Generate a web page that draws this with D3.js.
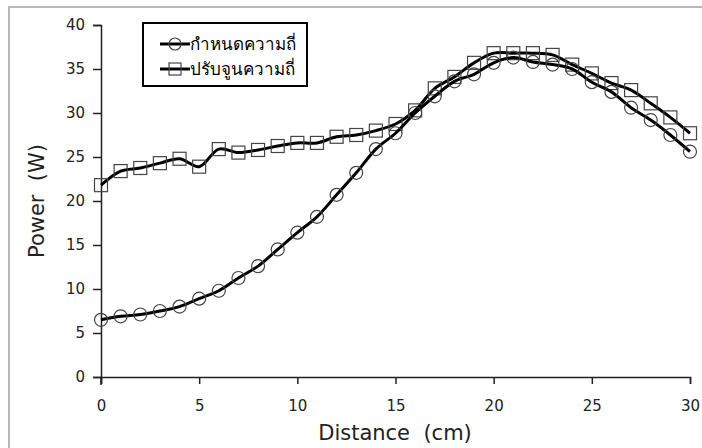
<!DOCTYPE html>
<html><head><meta charset="utf-8">
<script src="https://cdn.jsdelivr.net/npm/d3@7"></script>
<style>
html,body{margin:0;padding:0;background:#fff;}
svg{display:block;font-family:Tahoma,"DejaVu Sans",Verdana,sans-serif;}
</style></head>
<body>
<svg id="chart" width="702" height="448"></svg>
<script>
const distances = d3.range(0, 31);
const seriesNames = ["กำหนดความถี่", "ปรับจูนความถี่"];
const fixedFreq = [6.5,6.9,7.1,7.5,8.0,8.9,9.8,11.25,12.6,14.5,16.4,18.2,20.7,23.2,25.9,27.7,30.0,31.9,33.6,34.4,35.7,36.3,35.8,35.5,35.0,33.5,32.4,30.6,29.2,27.5,25.6];
const tunedFreq = [21.8,23.4,23.75,24.3,24.8,23.9,25.9,25.5,25.8,26.25,26.6,26.6,27.3,27.5,28.0,28.75,30.3,32.8,34.1,35.7,36.8,36.8,36.8,36.6,35.5,34.5,33.4,32.6,31.1,29.5,27.7];
const xTicks = [0,5,10,15,20,25,30];
const yTicks = [0,5,10,15,20,25,30,35,40];

const svg = d3.select("#chart");
// outer frame
svg.append("rect").attr("x",9).attr("y",7).attr("width",720).attr("height",470)
  .attr("fill","none").attr("stroke","#b8b8b8").attr("stroke-width",2);

const x = d3.scaleLinear().domain([0,30]).range([101,690]);
const y = d3.scaleLinear().domain([0,40]).range([377,25]);

const xAxis = svg.append("g").attr("transform","translate(0,377)")
  .call(d3.axisBottom(x).tickValues(xTicks).tickSize(7).tickPadding(16).tickFormat(d3.format("d")));
const yAxis = svg.append("g").attr("transform","translate(101,0)")
  .call(d3.axisLeft(y).tickValues(yTicks).tickSize(8).tickPadding(8).tickFormat(d3.format("d")));
[xAxis,yAxis].forEach(a=>{
  a.select(".domain").attr("stroke","#222").attr("stroke-width",1.5);
  a.selectAll(".tick line").attr("stroke","#222").attr("stroke-width",1.5);
  a.selectAll(".tick text").attr("font-size",15).attr("fill","#222")
   .attr("font-family",'Tahoma,"DejaVu Sans",Verdana,sans-serif');
});
// y axis extends slightly below 0 like Excel cross
svg.append("line").attr("x1",101).attr("x2",101).attr("y1",377).attr("y2",385).attr("stroke","#222").attr("stroke-width",1.5);

svg.append("text").attr("x",395).attr("y",440).attr("text-anchor","middle")
  .attr("font-size",21).attr("fill","#222").style("white-space","pre").text("Distance  (cm)");
svg.append("text").attr("transform","translate(44,201) rotate(-90)").attr("text-anchor","middle")
  .attr("font-size",21).attr("fill","#222").style("white-space","pre").text("Power  (W)");

const line = d3.line().x((d,i)=>x(distances[i])).y(d=>y(d)).curve(d3.curveCatmullRom.alpha(0.5));

function drawSeries(vals, shape){
  svg.append("path").attr("d",line(vals)).attr("fill","none").attr("stroke","#000").attr("stroke-width",3);
  const g = svg.append("g");
  vals.forEach((v,i)=>{
    if(shape==="circle"){
      g.append("circle").attr("cx",x(distances[i])).attr("cy",y(v)).attr("r",6.5)
        .attr("fill","none").attr("stroke","#444").attr("stroke-width",1.2);
    } else {
      g.append("rect").attr("x",x(distances[i])-6.5).attr("y",y(v)-6.5).attr("width",13).attr("height",13)
        .attr("fill","none").attr("stroke","#444").attr("stroke-width",1.2);
    }
  });
}
drawSeries(tunedFreq,"square");
drawSeries(fixedFreq,"circle");

// legend
const lg = svg.append("g");
lg.append("rect").attr("x",143).attr("y",23).attr("width",164).attr("height",63)
  .attr("fill","#fff").attr("stroke","#000").attr("stroke-width",2);
[["circle",44],["square",69]].forEach(([shape,ly],k)=>{
  lg.append("line").attr("x1",160).attr("x2",190).attr("y1",ly).attr("y2",ly).attr("stroke","#000").attr("stroke-width",3);
  if(shape==="circle") lg.append("circle").attr("cx",175).attr("cy",ly).attr("r",6).attr("fill","none").attr("stroke","#444").attr("stroke-width",1.2);
  else lg.append("rect").attr("x",169).attr("y",ly-6).attr("width",12).attr("height",12).attr("fill","none").attr("stroke","#444").attr("stroke-width",1.2);
  lg.append("text").attr("x",190).attr("y",ly).attr("dy","0.35em").attr("font-size",17).attr("fill","#000").text(seriesNames[k]);
});
</script>
</body></html>
